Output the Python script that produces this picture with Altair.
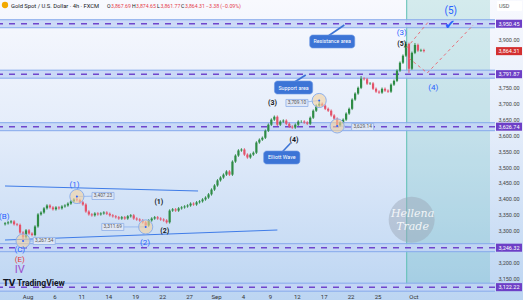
import json
import altair as alt
import pandas as pd

# ---------------- data ----------------
closes = [3323, 3326, 3329, 3320, 3318, 3294, 3279, 3301, 3291, 3286,
          3313, 3351, 3357, 3370, 3379, 3373, 3367, 3373, 3370, 3376,
          3379, 3385, 3392, 3398, 3396, 3389, 3382, 3360, 3351, 3348,
          3354, 3351, 3354, 3357, 3353, 3348, 3345, 3342, 3338, 3342,
          3338, 3345, 3348, 3338, 3335, 3332, 3326, 3316, 3332, 3338,
          3342, 3338, 3335, 3332, 3326, 3363, 3367, 3363, 3370, 3373,
          3376, 3379, 3385, 3382, 3389, 3392, 3398, 3404, 3414, 3429,
          3442, 3458, 3467, 3476, 3486, 3476, 3517, 3536, 3552, 3555,
          3539, 3530, 3539, 3545, 3577, 3586, 3592, 3614, 3633, 3649,
          3658, 3633, 3643, 3646, 3636, 3627, 3624, 3633, 3643, 3643,
          3640, 3636, 3655, 3677, 3693, 3699, 3693, 3683, 3677, 3662,
          3652, 3630, 3640, 3649, 3668, 3683, 3712, 3731, 3749, 3778,
          3776, 3762, 3763, 3746, 3737, 3734, 3746, 3740, 3737, 3759,
          3771, 3803, 3828, 3850, 3887, 3809, 3859, 3884, 3866, 3867.69, 3864.31]
first_open = 3320.0
high_over = {24: 3407.23, 105: 3709.10, 119: 3786, 134: 3894, 137: 3890}
low_over = {6: 3267.54, 47: 3311.69, 111: 3629.14, 135: 3796}

day_ticks = [0, 3, 6, 9, 12, 15, 18, 21, 24, 27, 30, 33, 36, 39, 43]
day_labels = ["Aug", "6", "11", "14", "19", "22", "27", "Sep", "4", "9", "12", "17", "22", "25", "Oct"]
price_ticks = [3150, 3200, 3300, 3350, 3400, 3450, 3500, 3550, 3600, 3650, 3700, 3750, 3900]

levels = [3950.45, 3791.87, 3626.74, 3246.32, 3122.22]
last_price = 3864.31

pivot_idx = [6, 24, 47, 105, 111]
pivot_price = [3267.54, 3407.23, 3311.69, 3709.10, 3629.14]
tag_t = [1.86, 8.41, 9.50, 30.02, 37.34]
tag_p = [3267.4, 3408.9, 3311.4, 3701.3, 3625.8]

trend_t = [-2.51, -2.51]
trend_p = [3440.3, 3270.5]
trend_t2 = [19.0, 27.84]
trend_p2 = [3424.6, 3301.9]

proj_t = [42.25, 42.47, 44.54]
proj_p = [3874.2, 3842.7, 3795.6]
proj_t2 = [44.65, 44.54, 49.67]
proj_p2 = [3955.9, 3795.6, 3946.5]

call_text = ["Resistance area", "Support area", "Elliott Wave"]
call_t = [31.44, 27.51, 26.31]
call_t2 = [36.46, 31.77, 30.35]
call_p = [3874.2, 3729.5, 3509.5]
call_p2 = [3915.1, 3770.4, 3550.3]
tail_t = [33.5, 29.8, 28.4]
tail_p = [3912.0, 3768.0, 3548.0]
tail_t2 = [35.3, 31.0, 29.3]
tail_p2 = [3946.5, 3789.3, 3574.5]

blue_text = ["(3)", "(4)", "(1)", "(2)", "(C)", "(B)"]
blue_t = [41.70, 45.2, 5.24, 13.1, -0.87, -2.6]
blue_p = [3921.3, 3748.4, 3443.4, 3261.1, 3239.1, 3342.8]
big5_t, big5_p = 47.16, 3990.5
black_text = ["(1)", "(2)", "(3)", "(4)", "(5)"]
black_t = [14.63, 15.28, 27.29, 29.69, 41.70]
black_p = [3390.0, 3298.8, 3701.3, 3584.9, 3886.7]

teal_start = 42.25
XD = [-2.51, 51.53]
YD = [3113.3, 4025.1]

UP = "#2e8b45"
DN = "#e4536a"
BLUE = "#2962ff"
FONT = "Roboto"

# ---------------- frames ----------------
opens = [first_open] + closes[:-1]
ts = [-2.5 + k / 3 for k in range(len(closes))]
highs = [max(o, c) + 4 for o, c in zip(opens, closes)]
lows = [min(o, c) - 4 for o, c in zip(opens, closes)]
for k, v in high_over.items():
    highs[k] = v
for k, v in low_over.items():
    lows[k] = v
cdf = pd.DataFrame({"t": ts, "o": opens, "c": closes, "h": highs, "l": lows})

XS = alt.Scale(domain=XD, nice=False, zero=False)
YS = alt.Scale(domain=YD, nice=False, zero=False)

x_axis = alt.Axis(values=day_ticks,
                  labelExpr=f"{json.dumps(day_labels)}[indexof({json.dumps(day_ticks)}, datum.value)]",
                  labelFontSize=6, labelColor="#333333", labelFont=FONT, domain=False, ticks=False,
                  grid=False, labelPadding=3, labelFlush=False, labelOverlap=False, zindex=1, title=None)
y_axis = alt.Axis(orient="right", values=price_ticks, format=",.2f", labelFontSize=5.5,
                  labelColor="#444444", labelFont=FONT, domain=False, ticks=False, grid=False,
                  labelPadding=3, labelOverlap=False, labelFlush=False, zindex=1, title=None)


def X(f="t"):
    return alt.X(f"{f}:Q", scale=XS, axis=x_axis)


def Y(f="p"):
    return alt.Y(f"{f}:Q", scale=YS, axis=y_axis)


one = pd.DataFrame({"a": [0]})

# background gradient
bg = alt.Chart(one).mark_rect(
    fill=alt.LinearGradient(
        gradient="linear",
        stops=[alt.GradientStop(color="#f8f9fe", offset=0),
               alt.GradientStop(color="#e3ecfa", offset=0.45),
               alt.GradientStop(color="#bcd5f2", offset=1)],
        x1=0, x2=0, y1=0, y2=1),
    stroke=None,
).encode(x=alt.value(0), x2=alt.value(523), y=alt.value(0), y2=alt.value(300))

teal = alt.Chart(pd.DataFrame({"t": [teal_start], "t2": [XD[1]]})).mark_rect(
    color="#26a69a", opacity=0.17).encode(x=X(), x2="t2:Q", y=alt.value(0), y2=alt.value(290))
teal_line = alt.Chart(pd.DataFrame({"t": [teal_start]})).mark_rule(
    color="#5cbfb3", strokeWidth=1).encode(x=X())

ldf = pd.DataFrame({"p": levels})
band_fill = alt.Chart(ldf).mark_rule(strokeWidth=8, color="#c4d5f6", opacity=0.85).encode(y=Y())
band_top = alt.Chart(ldf).mark_rule(strokeWidth=1, color="#86a9ec", yOffset=-4).encode(y=Y())
band_bot = alt.Chart(ldf).mark_rule(strokeWidth=1, color="#86a9ec", yOffset=4).encode(y=Y())
band_dash = alt.Chart(ldf).mark_rule(strokeWidth=1.5, color="#7046cc", strokeDash=[6, 6]).encode(y=Y())

tdf = pd.DataFrame({"t": trend_t, "p": trend_p, "t2": trend_t2, "p2": trend_p2})
trend = alt.Chart(tdf).mark_rule(color="#3f7ce8", strokeWidth=1).encode(
    x=X(), y=Y(), x2="t2:Q", y2="p2:Q")

color = alt.condition("datum.c >= datum.o", alt.value(UP), alt.value(DN))
wick = alt.Chart(cdf).mark_rule(strokeWidth=0.9).encode(
    x=X(), y=Y("l"), y2="h:Q", color=color)
body = alt.Chart(cdf).mark_bar(size=2.2).encode(
    x=X(), y=Y("o"), y2="c:Q", color=color)

# projections
pdf = pd.DataFrame({"t": proj_t, "p": proj_p, "t2": proj_t2, "p2": proj_p2})
proj = alt.Chart(pdf).mark_rule(color="#e8707a", strokeWidth=1, strokeDash=[3, 3]).encode(
    x=X(), y=Y(), x2="t2:Q", y2="p2:Q")

# pivots
piv = pd.DataFrame({"t": [ts[k] for k in pivot_idx], "p": pivot_price, "t2": tag_t, "p2": tag_p,
                    "lab": [f"{v:,.2f}" for v in pivot_price]})
conn = alt.Chart(piv).mark_rule(color="#8db0ec", strokeWidth=0.8).encode(
    x=X(), y=Y(), x2="t2:Q", y2="p2:Q")
circ = alt.Chart(piv).mark_point(shape="circle", filled=True, fill="#f3d2a0", fillOpacity=0.6,
                                 stroke="#8db0ec", strokeWidth=1, size=200, opacity=1).encode(x=X(), y=Y())
dot = alt.Chart(piv).mark_point(shape="circle", filled=True, color=BLUE, size=4, opacity=1).encode(x=X(), y=Y())
tagbox = alt.Chart(piv).mark_point(shape="M-1,-0.32H1V0.32H-1Z", filled=True, fill="#dfe7f6",
                                   stroke="#8fb0e8", strokeWidth=0.8, size=484, opacity=1).encode(
    x=X("t2"), y=Y("p2"))
tagtxt = alt.Chart(piv).mark_text(fontSize=4.8, color="#555555", font=FONT).encode(
    x=X("t2"), y=Y("p2"), text="lab:N")

# callouts
cadf = pd.DataFrame({"t": call_t, "t2": call_t2, "p": call_p, "p2": call_p2, "txt": call_text,
                     "tt": tail_t, "tp": tail_p, "tt2": tail_t2, "tp2": tail_p2,
                     "mt": [(a + b) / 2 for a, b in zip(call_t, call_t2)],
                     "mp": [(a + b) / 2 for a, b in zip(call_p, call_p2)]})
tail = alt.Chart(cadf).mark_rule(color="#3c74d6", strokeWidth=1.6).encode(
    x=X("tt"), y=Y("tp"), x2="tt2:Q", y2="tp2:Q")
cbox = alt.Chart(cadf).mark_rect(color="#3c74d6", cornerRadius=3, stroke="#6d98e4", strokeWidth=0.6).encode(
    x=X(), x2="t2:Q", y=Y(), y2="p2:Q")
ctxt = alt.Chart(cadf).mark_text(fontSize=5.3, color="white", font=FONT).encode(
    x=X("mt"), y=Y("mp"), text="txt:N")

# wave labels
bdf = pd.DataFrame({"t": blue_t, "p": blue_p, "txt": blue_text})
blue_lab = alt.Chart(bdf).mark_text(fontSize=8, color=BLUE, font=FONT).encode(x=X(), y=Y(), text="txt:N")
big5 = alt.Chart(pd.DataFrame({"t": [big5_t], "p": [big5_p], "txt": ["(5)"]})).mark_text(
    fontSize=10, color=BLUE, font=FONT).encode(x=X(), y=Y(), text="txt:N")
check = alt.Chart(pd.DataFrame({"t": [47.05], "p": [3946.0], "txt": ["✔"]})).mark_text(
    fontSize=13, color=BLUE, font="DejaVu Sans").encode(x=X(), y=Y(), text="txt:N")
kdf = pd.DataFrame({"t": black_t, "p": black_p, "txt": black_text})
black_lab = alt.Chart(kdf).mark_text(fontSize=7, color="#131722", font=FONT, fontWeight="bold").encode(
    x=X(), y=Y(), text="txt:N")
e_lab = alt.Chart(pd.DataFrame({"t": [-0.87], "p": [3207.0], "txt": ["(E)"]})).mark_text(
    fontSize=8, color="#e53935", font=FONT).encode(x=X(), y=Y(), text="txt:N")
iv_lab = alt.Chart(pd.DataFrame({"t": [-0.87], "p": [3177.0], "txt": ["IV"]})).mark_text(
    fontSize=11, color="#9b4dca", font=FONT).encode(x=X(), y=Y(), text="txt:N")

# right axis price boxes
pbox = alt.Chart(ldf).mark_point(shape="M-1,-0.31H1V0.31H-1Z", filled=True, color="#6d3fc6",
                                 size=676, opacity=1).encode(x=alt.value(509), y=Y())
ptxt = alt.Chart(ldf).mark_text(fontSize=5.5, color="white", font=FONT).encode(
    x=alt.value(509), y=Y(), text=alt.Text("p:Q", format=",.2f"))
lp = pd.DataFrame({"p": [last_price]})
rbox = alt.Chart(lp).mark_point(shape="M-1,-0.31H1V0.31H-1Z", filled=True, color="#d32f2f",
                                size=676, opacity=1).encode(x=alt.value(509), y=Y())
rtxt = alt.Chart(lp).mark_text(fontSize=5.5, color="white", font=FONT).encode(
    x=alt.value(509), y=Y(), text=alt.Text("p:Q", format=",.2f"))
usd_box = alt.Chart(one).mark_rect(color="white", cornerRadius=1).encode(
    x=alt.value(497), x2=alt.value(522), y=alt.value(1), y2=alt.value(11))
usd_txt = alt.Chart(pd.DataFrame({"txt": ["USD"]})).mark_text(
    fontSize=5.5, color="#555555", font=FONT, align="left").encode(x=alt.value(499), y=alt.value(6), text="txt:N")

# watermark
wm = alt.Chart(pd.DataFrame({"t": [42.8], "p": [3334.0]})).mark_point(
    shape="circle", filled=True, color="#98a4b4", opacity=0.45, size=2116).encode(x=X(), y=Y())
wm_txt = alt.Chart(pd.DataFrame({"t": [42.9, 42.9], "p": [3352.0, 3312.0], "txt": ["Hellena", "Trade"]})).mark_text(
    fontSize=11, color="white", opacity=0.85, font="DejaVu Serif", fontStyle="italic").encode(
    x=X(), y=Y(), text="txt:N")

# header
coin = alt.Chart(one).mark_point(shape="circle", filled=True, color="#f2a900", size=40, opacity=1).encode(
    x=alt.value(5), y=alt.value(5))
title = alt.Chart(pd.DataFrame({"txt": ["Gold Spot / U.S. Dollar · 4h · FXCM"]})).mark_text(
    fontSize=5.8, color="#131722", font=FONT, align="left").encode(x=alt.value(11), y=alt.value(5.5), text="txt:N")
hdr_txt = ["O", "3,867.69", "H", "3,874.65", "L", "3,861.77", "C", "3,864.31", "−3.38 (−0.09%)"]
hdr_x = [107, 111, 132, 136, 157, 160.5, 181, 185, 206]
hdr_red = [False, True, False, True, False, True, False, True, True]
hdf = pd.DataFrame({"txt": hdr_txt, "x": hdr_x, "red": hdr_red})
hdr = alt.Chart(hdf).mark_text(fontSize=5.2, font=FONT, align="left").encode(
    x=alt.X("x:Q", scale=None), y=alt.value(5.5), text="txt:N",
    color=alt.condition("datum.red", alt.value("#e5404d"), alt.value("#131722")))

# TradingView logo
tv_logo = alt.Chart(pd.DataFrame({"txt": ["TV"]})).mark_text(
    fontSize=8.5, color="#131722", font="DejaVu Sans", fontWeight="bold", align="left").encode(
    x=alt.value(3), y=alt.value(283), text="txt:N")
tv_txt = alt.Chart(pd.DataFrame({"txt": ["TradingView"]})).mark_text(
    fontSize=8.5, color="#131722", font=FONT, fontWeight="bold", align="left").encode(
    x=alt.value(17), y=alt.value(283), text="txt:N")

chart = alt.layer(
    bg, teal, teal_line, band_fill, band_top, band_bot, band_dash, trend,
    wick, body, proj, conn, circ, dot, tagbox, tagtxt,
    tail, cbox, ctxt, blue_lab, big5, check, black_lab, e_lab, iv_lab,
    wm, wm_txt, pbox, ptxt, rbox, rtxt, usd_box, usd_txt,
    coin, title, hdr, tv_logo, tv_txt,
).properties(
    width=495, height=290,
    padding={"left": 0, "top": 0, "right": 28, "bottom": 10},
    autosize=alt.AutoSizeParams(type="none"),
).configure(background="#dbe7f8").configure_view(stroke=None)

chart.save("out.html", embed_options={"renderer": "svg", "actions": False})
